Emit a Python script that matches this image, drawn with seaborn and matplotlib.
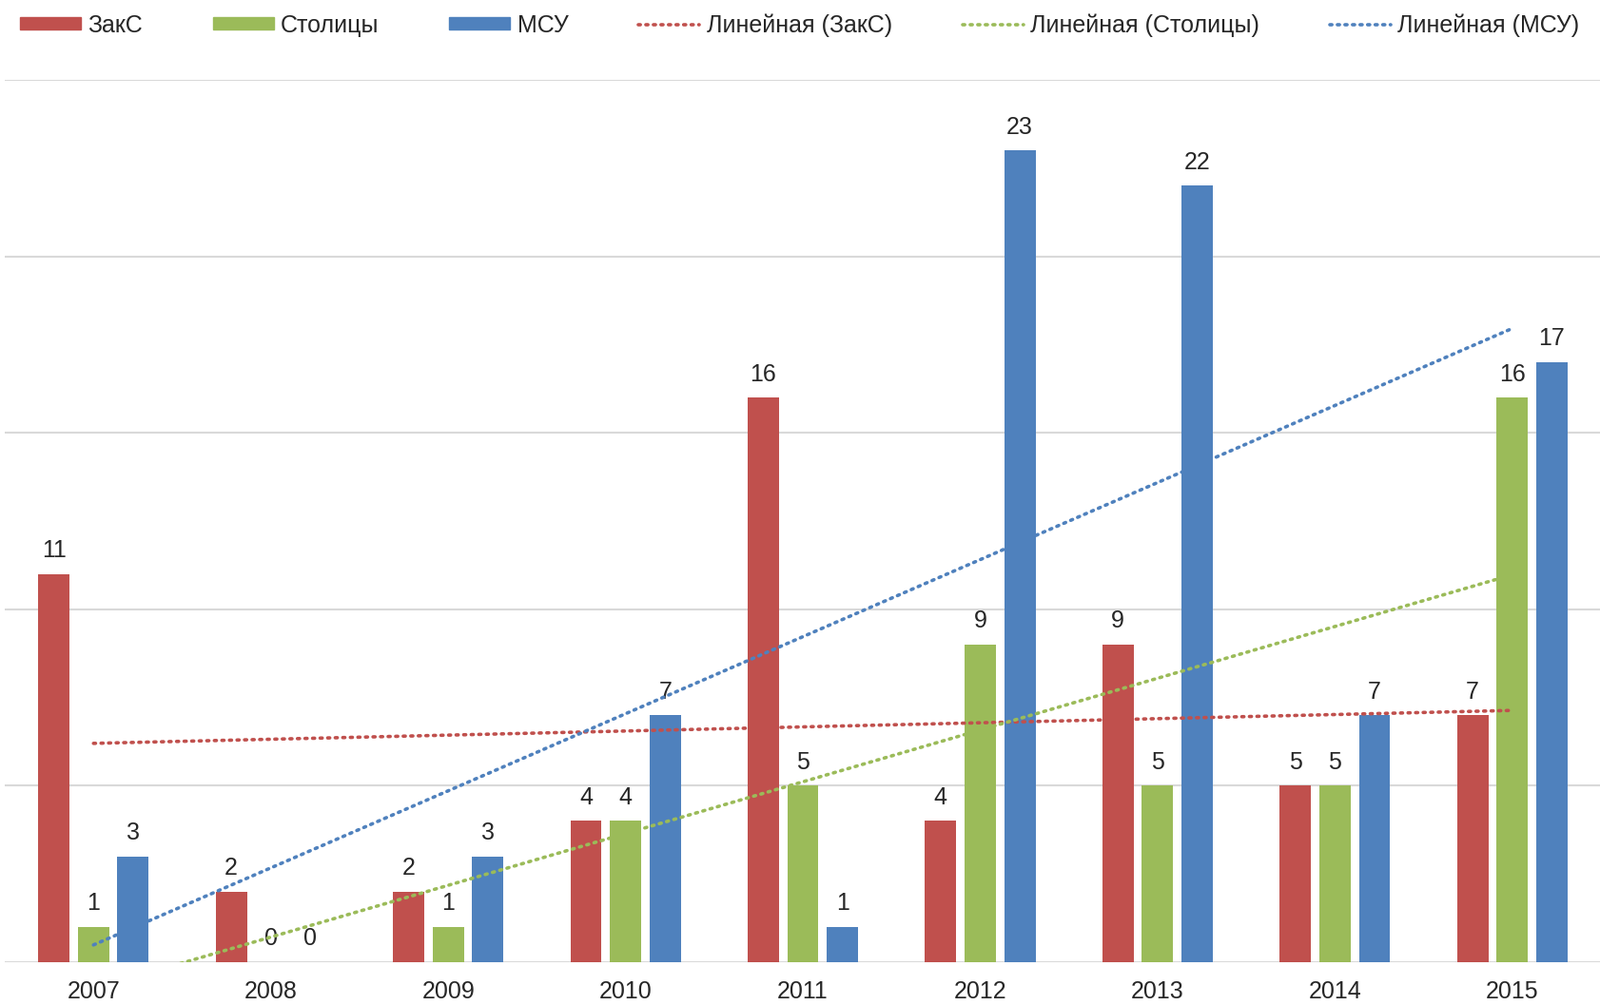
import numpy as np
import pandas as pd
import matplotlib.pyplot as plt
import seaborn as sns
from matplotlib.patches import Patch
from matplotlib.lines import Line2D

years = ["2007", "2008", "2009", "2010", "2011", "2012", "2013", "2014", "2015"]
zaks = [11, 2, 2, 4, 16, 4, 9, 5, 7]
stolitsy = [1, 0, 1, 4, 5, 9, 5, 5, 16]
msu = [3, 0, 3, 7, 1, 23, 22, 7, 17]

series = ["ЗакС", "Столицы", "МСУ"]
colors = ["#C0504D", "#9BBB59", "#4F81BD"]

df = pd.DataFrame({
    "year": years * 3,
    "value": zaks + stolitsy + msu,
    "series": [s for s in series for _ in years],
})

sns.set_style("white")
plt.rcParams["font.family"] = ["Liberation Sans", "DejaVu Sans"]

fig = plt.figure(figsize=(16.83, 10.57), dpi=100)
ax = fig.add_axes([0.003, 0.0426, 0.997, 0.878])

sns.barplot(data=df, x="year", y="value", hue="series", palette=colors,
            saturation=1, width=0.67, gap=0.21, ax=ax, legend=False,
            linewidth=0, errorbar=None)

# подписи значений
for cont in ax.containers:
    ax.bar_label(cont, labels=[str(int(v)) for v in cont.datavalues],
                 padding=9, fontsize=18, color="#262626")

# линейные тренды
x = np.arange(len(years))
dots = (0, (0.6, 1.6))
for vals, c in zip([zaks, stolitsy, msu], colors):
    k, b = np.polyfit(x, vals, 1)
    ax.plot(x, k * x + b, color=c, linestyle=dots, linewidth=2.6,
            dash_capstyle="round", zorder=5)

ax.set_xlim(-0.5, len(years) - 0.5)
ax.set_ylim(0, 25)
ax.set_yticks([0, 5, 10, 15, 20, 25])
ax.set_yticklabels([])
ax.grid(axis="y", color="#D9D9D9", linewidth=1.5)
ax.set_axisbelow(True)
for s in ax.spines.values():
    s.set_visible(False)
ax.tick_params(axis="x", length=0, labelsize=18, pad=14, labelcolor="#262626")
ax.tick_params(axis="y", length=0)
ax.set_xlabel("")
ax.set_ylabel("")

handles = [Patch(color=c) for c in colors] + [
    Line2D([], [], color=c, linestyle=dots, linewidth=2.6,
           dash_capstyle="round") for c in colors]
labels = series + ["Линейная (" + s + ")" for s in series]
fig.legend(handles, labels, loc="center", bbox_to_anchor=(0.4995, 0.975), ncol=6,
           frameon=False, fontsize=18, handlelength=2.56, handleheight=0.45,
           handletextpad=0.3, columnspacing=2.95, labelcolor="#262626",
           borderpad=0, borderaxespad=0)

fig.savefig("out.png", dpi=100)
